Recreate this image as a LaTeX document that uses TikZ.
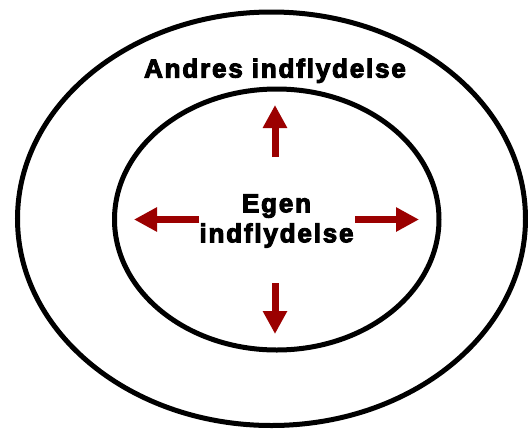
\documentclass[tikz,border=0pt]{standalone}
\usepackage{fontspec}
\newfontfamily\labelfont{Liberation Sans}[LetterSpace=7, BoldFeatures={FakeBold=4}]
\usetikzlibrary{arrows.meta, shapes.geometric}
\definecolor{darkred}{RGB}{155,0,0}

\begin{document}
\begin{tikzpicture}
		[
			x=1pt, y=-1pt,
			ring/.style={ellipse, draw, line width=5pt, inner sep=0pt},
			push/.style={draw=darkred, line width=7pt, -{Triangle[length=23pt, width=23pt]}},
			lbl/.style={font=\labelfont\bfseries\fontsize{26}{30}\selectfont, align=center, inner sep=0pt},
		]

		\useasboundingbox (0,0) rectangle (528,429);

		% Rings
		\node[ring, minimum width=508pt, minimum height=413.5pt] (outer) at (271.5,218.75) {};
		\node[ring, minimum width=324.5pt, minimum height=261pt] (inner) at (276.75,219.5) {};

		% Labels
		\node[lbl, anchor=base] (others) at (275,77.5) {Andres indflydelse};
		\node[lbl] (own) at (276.5,221) {Egen\\indflydelse};

		% Arrow ends
		\foreach \name/\x/\y in
		{
			up-a/275/157,
			up-b/275/105,
			down-a/275/283,
			down-b/275/334,
			left-a/199/219.5,
			left-b/134/219.5,
			right-a/355/219.5,
			right-b/419/219.5
		}
			\coordinate (\name) at (\x,\y);

		% Arrows
		\foreach \u/\v in
		{
			up-a/up-b,
			down-a/down-b,
			left-a/left-b,
			right-a/right-b}
			\draw[push] (\u) -- (\v);

		\end{tikzpicture}
\end{document}
